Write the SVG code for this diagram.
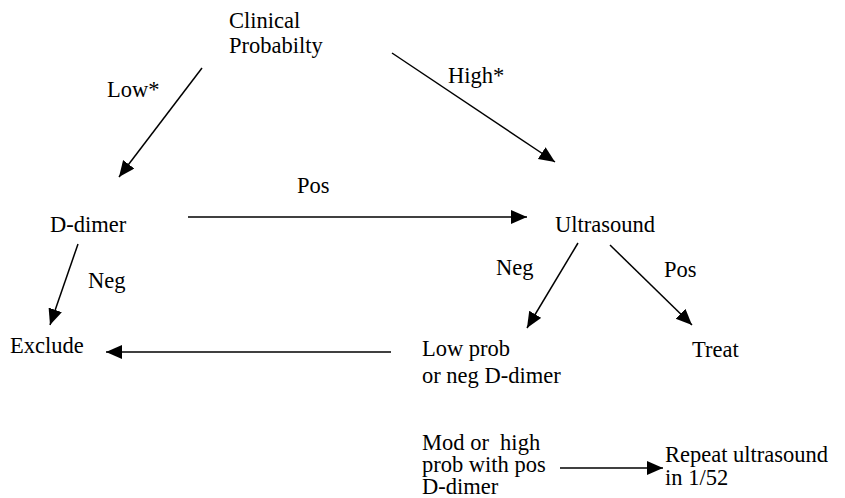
<svg xmlns="http://www.w3.org/2000/svg" width="845" height="498" viewBox="0 0 845 498">
<style>
text{font-family:"Liberation Serif","Times New Roman",serif;font-size:22.5px;fill:#000}
.c line{stroke:#000;stroke-width:1.5;marker-end:url(#ah)}
</style>
<defs>
<marker id="ah" markerUnits="userSpaceOnUse" markerWidth="18" markerHeight="16" refX="16" refY="7" orient="auto">
<path d="M0,0 L16,7 L0,14 Z" fill="#000"/>
</marker>
</defs>
<rect width="845" height="498" fill="#fff"/>
<g class="c" id="connectors">
<line x1="202" y1="68" x2="119" y2="177"/>
<line x1="392" y1="53" x2="555" y2="162"/>
<line x1="188" y1="217" x2="527" y2="217"/>
<line x1="78" y1="244" x2="50" y2="325"/>
<line x1="578" y1="243" x2="527" y2="328"/>
<line x1="610" y1="245" x2="692" y2="325"/>
<line x1="391" y1="352" x2="106" y2="352"/>
<line x1="560" y1="468" x2="663" y2="468"/>
</g>
<g id="labels">
<text x="107" y="97">Low*</text>
<text x="448" y="83">High*</text>
<text x="297" y="193">Pos</text>
<text x="88" y="288">Neg</text>
<text x="496" y="275">Neg</text>
<text x="664" y="277">Pos</text>
</g>
<g id="clinical"><text x="229" y="28">Clinical</text><text x="229" y="53">Probabilty</text></g>
<g id="ddimer"><text x="50" y="232">D-dimer</text></g>
<g id="ultrasound"><text x="555" y="232">Ultrasound</text></g>
<g id="exclude"><text x="10" y="353">Exclude</text></g>
<g id="lowprob"><text x="422" y="356">Low prob</text><text x="422" y="383">or neg D-dimer</text></g>
<g id="treat"><text x="692" y="357">Treat</text></g>
<g id="modhigh"><text x="422" y="450" xml:space="preserve">Mod or  high</text><text x="422" y="472">prob with pos</text><text x="422" y="494">D-dimer</text></g>
<g id="repeat"><text x="665" y="462">Repeat ultrasound</text><text x="665" y="485">in 1/52</text></g>
</svg>
